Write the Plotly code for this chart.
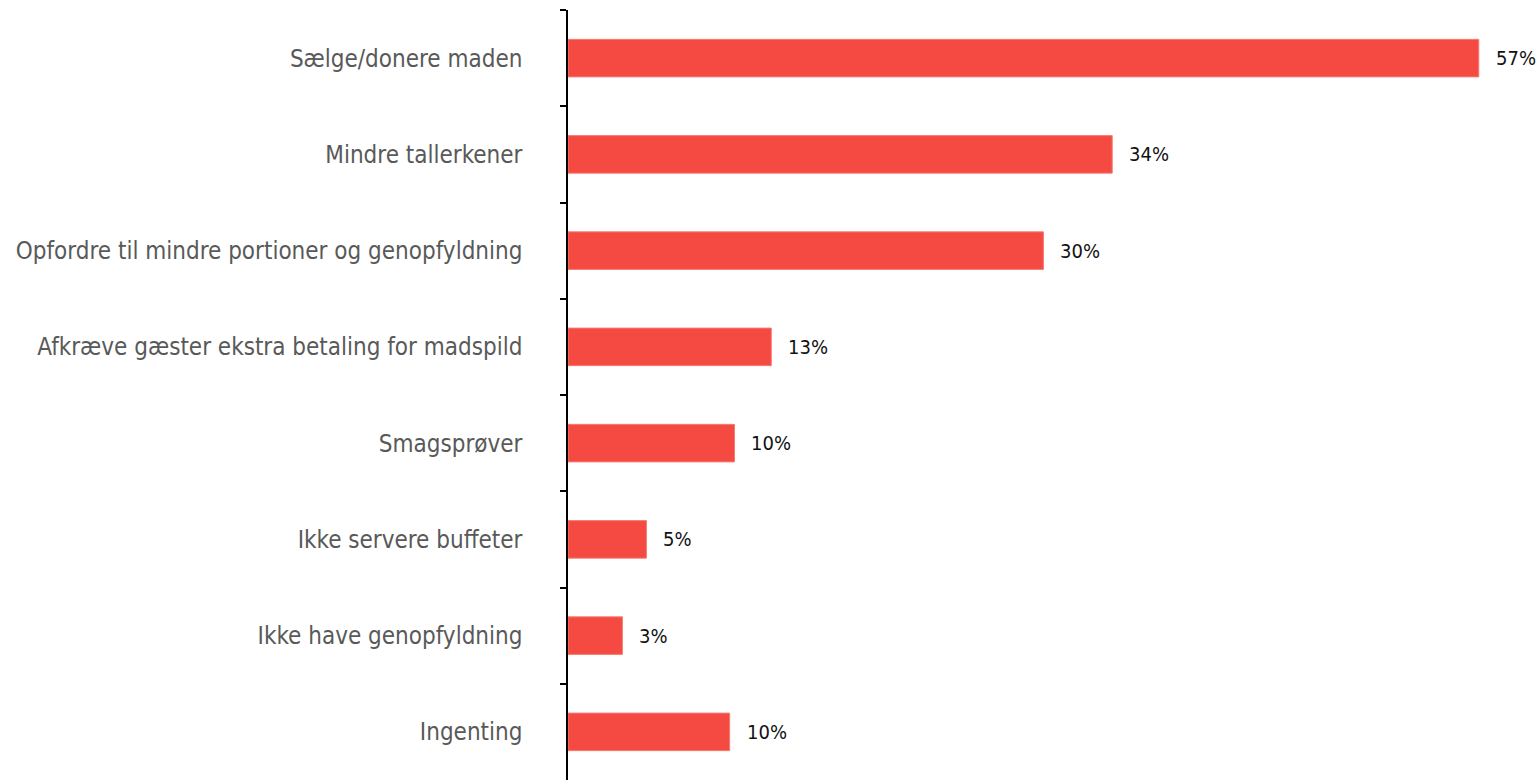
import plotly.graph_objects as go

categories = [
    "Sælge/donere maden",
    "Mindre tallerkener",
    "Opfordre til mindre portioner og genopfyldning",
    "Afkræve gæster ekstra betaling for madspild",
    "Smagsprøver",
    "Ikke servere buffeter",
    "Ikke have genopfyldning",
    "Ingenting",
]
values = [56.9, 34.0, 29.7, 12.7, 10.4, 4.9, 3.4, 10.1]
labels = ["57%", "34%", "30%", "13%", "10%", "5%", "3%", "10%"]

fig = go.Figure(go.Bar(
    y=categories,
    x=values,
    orientation="h",
    width=0.39,
    marker=dict(color="#F44A41", line=dict(color="#F87A72", width=1)),
    hoverinfo="skip",
))

for cat, val, lab in zip(categories, values, labels):
    fig.add_annotation(
        x=val, y=cat, text=lab, showarrow=False,
        xanchor="left", yanchor="middle", xshift=15,
        font=dict(family="DejaVu Sans Condensed", size=20, color="#111111"),
    )

fig.update_layout(
    width=1538,
    height=780,
    margin=dict(l=568, r=0, t=10, b=0, autoexpand=False),
    paper_bgcolor="white",
    plot_bgcolor="white",
    showlegend=False,
)
fig.update_xaxes(
    range=[0, 60.6],
    visible=False,
    showgrid=False,
    zeroline=False,
    automargin=False,
)
fig.update_yaxes(
    autorange="reversed",
    categoryorder="array",
    categoryarray=categories,
    showline=True,
    linecolor="#000000",
    linewidth=1.5,
    showgrid=False,
    zeroline=False,
    automargin=False,
    tickfont=dict(family="DejaVu Sans Condensed", size=24, color="#595959"),
    ticklabelstandoff=39,
    ticks="outside",
    ticklen=6,
    tickcolor="#000000",
    tickwidth=1.5,
    tickson="boundaries",
)

fig.write_html(
    "out.html",
    config={"displayModeBar": False},
    post_script="document.body.style.margin='0';document.body.style.overflow='hidden';",
)
